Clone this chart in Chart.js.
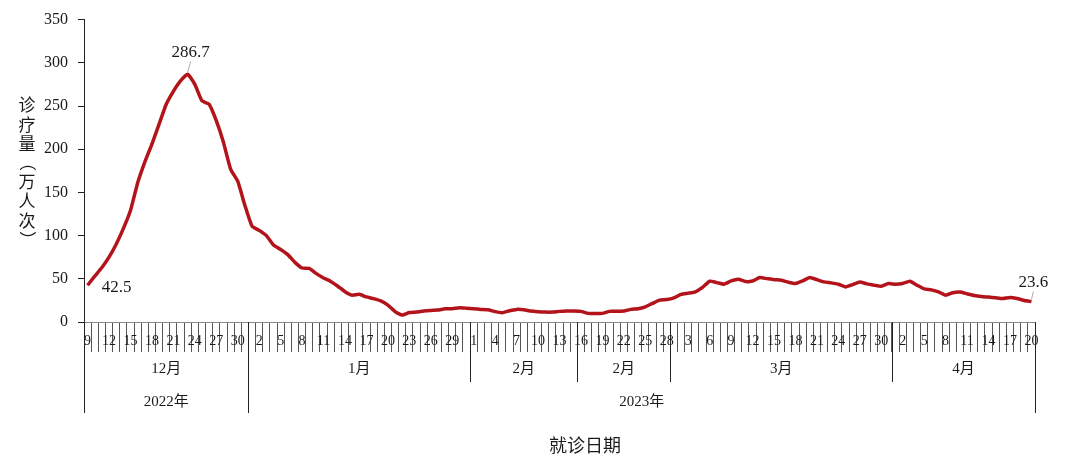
<!DOCTYPE html>
<html>
<head>
<meta charset="utf-8">
<script src="https://cdn.jsdelivr.net/npm/chart.js@4.4.1/dist/chart.umd.min.js"></script>
<style>
  html, body { margin: 0; padding: 0; background: #fff; }
  #wrap { width: 1080px; height: 459px; }
</style>
</head>
<body>
<div id="wrap"><canvas id="chart"></canvas></div>
<script>
// daily visits (10k person-times), 2022-12-09 .. 2023-04-20
const visitsDec = [42.5, 53, 63, 75, 90, 108, 129, 161, 185, 206, 229, 252, 267, 279, 286.7, 275, 256, 252, 233, 208, 177, 163, 135];
const visitsJan = [111, 106, 100, 89, 84, 78, 69, 62.5, 62, 56, 51, 47, 41.4, 35, 31, 32, 29, 27, 24.5, 19.6, 12, 8, 11, 11.5, 12.7, 13.4, 13.8, 15.3, 15.3, 16.5, 16];
const visitsFeb = [15.3, 14.6, 14.2, 12, 10.7, 13, 14.6, 14.2, 12.7, 12, 11.5, 11.5, 12.3, 12.7, 12.7, 12.3, 10, 9.8, 10, 12.3, 12.3, 12.7, 14.6, 15.3, 17.6, 21.5, 25.3, 26];
const visitsMar = [28, 32, 33.4, 35, 40, 47.2, 45.6, 43.7, 47.5, 49.5, 46.8, 47.5, 51.4, 50.2, 49, 48.3, 46, 44.6, 47.5, 51.4, 49, 46.4, 45.3, 43.7, 40.6, 43.3, 46.4, 44.1, 42.6, 41.4, 44.6];
const visitsApr = [43.7, 44.6, 47.2, 42.6, 38.4, 37.2, 34.9, 31, 33.8, 34.6, 32.6, 30.7, 29.5, 28.8, 28, 27.2, 28.4, 27.2, 24.9, 23.6];

// axis groups (month row, year row)
const monthNames = ['12月', '1月', '2月', '2月', '3月', '4月'];
const monthFirstDay = [9, 1, 1, 16, 1, 1];
const monthSpans = [23, 31, 15, 13, 31, 20];
const yearNames = ['2022年', '2023年'];
const yearSpans = [23, 110];
const yTicks = [0, 50, 100, 150, 200, 250, 300, 350];
const labelledDays = [0, 14, 132];

const visits = [].concat(visitsDec, visitsJan, visitsFeb, visitsMar, visitsApr);
const dayLabels = [];
monthSpans.forEach((n, k) => {
  for (let d = 0; d < n; d++) dayLabels.push(String(monthFirstDay[k] + d));
});

const SERIF = '"Liberation Serif", "Times New Roman", "Noto Sans CJK SC", serif';
const CJK = '"Noto Sans CJK SC", sans-serif';
const INK = '#1a1a1a';

const crisp = v => Math.round(v) + 0.5;

const extras = {
  id: 'extras',
  afterDraw(chart) {
    const { ctx, chartArea } = chart;
    const x = chart.scales.x;
    const half = (x.getPixelForValue(1) - x.getPixelForValue(0)) / 2;
    const edge = i => x.getPixelForValue(i) - half;
    const axisY = chartArea.bottom;

    ctx.save();
    ctx.strokeStyle = '#222';
    ctx.lineWidth = 1;
    ctx.fillStyle = INK;
    ctx.textAlign = 'center';
    ctx.textBaseline = 'middle';

    // month row
    ctx.font = '15px ' + SERIF;
    let start = 0;
    monthNames.forEach((name, k) => {
      const x0 = edge(start), x1 = edge(start + monthSpans[k]);
      ctx.beginPath();
      ctx.moveTo(crisp(x0), axisY);
      ctx.lineTo(crisp(x0), axisY + 60);
      ctx.stroke();
      ctx.fillText(name, (x0 + x1) / 2, axisY + 47);
      start += monthSpans[k];
    });

    // year row
    start = 0;
    yearNames.forEach((name, k) => {
      const x0 = edge(start), x1 = edge(start + yearSpans[k]);
      ctx.beginPath();
      ctx.moveTo(crisp(x0), axisY);
      ctx.lineTo(crisp(x0), axisY + 91);
      ctx.stroke();
      ctx.fillText(name, (x0 + x1) / 2, axisY + 80);
      start += yearSpans[k];
    });
    ctx.beginPath();
    ctx.moveTo(crisp(edge(start)), axisY);
    ctx.lineTo(crisp(edge(start)), axisY + 91);
    ctx.stroke();

    // axis titles
    ctx.font = '18px ' + CJK;
    ctx.fillText('就诊日期', 585, 445);

    ctx.font = '17px ' + CJK;
    Array.from('诊疗量（万人次）').forEach((ch, k) => {
      const cy = 105 + k * 19.2;
      if (ch === '（' || ch === '）') {
        ctx.save();
        ctx.translate(27, cy);
        ctx.rotate(Math.PI / 2);
        ctx.fillText(ch, 0, 0);
        ctx.restore();
      } else {
        ctx.fillText(ch, 27, cy);
      }
    });

    // data labels
    const meta = chart.getDatasetMeta(0);
    const place = { 0: [29, 2, false], 14: [3, -22, true], 132: [2, -19, true] };
    ctx.font = '17px ' + SERIF;
    labelledDays.forEach(i => {
      const pt = meta.data[i];
      const [dx, dy, leader] = place[i];
      if (leader) {
        ctx.strokeStyle = '#aaa';
        ctx.beginPath();
        ctx.moveTo(pt.x + dx, pt.y + dy + 9);
        ctx.lineTo(pt.x, pt.y - 2);
        ctx.stroke();
      }
      ctx.fillText(visits[i].toFixed(1), pt.x + dx, pt.y + dy);
    });
    ctx.restore();
  }
};

new Chart(document.getElementById('chart'), {
  type: 'line',
  data: {
    labels: dayLabels,
    datasets: [{
      data: visits,
      borderColor: '#B3141B',
      borderWidth: 3.5,
      pointRadius: 0,
      tension: 0.15,
      fill: false,
    }],
  },
  options: {
    responsive: true,
    maintainAspectRatio: false,
    animation: false,
    layout: { padding: { left: 0, right: 45, top: 18, bottom: 0 } },
    plugins: {
      legend: { display: false },
      tooltip: { enabled: false },
    },
    scales: {
      x: {
        type: 'category',
        offset: true,
        afterFit: s => { s.height = 137; },
        grid: { offset: true, drawOnChartArea: false, tickLength: 30, color: '#555', lineWidth: 1 },
        border: { color: '#888', width: 1 },
        ticks: {
          autoSkip: false,
          maxRotation: 0,
          minRotation: 0,
          padding: -19,
          color: INK,
          font: { family: SERIF, size: 14 },
          callback: (v, i) => (i % 3 === 0 ? dayLabels[i] : ''),
        },
      },
      y: {
        min: yTicks[0],
        max: yTicks[yTicks.length - 1],
        afterFit: s => { s.width = 84; },
        afterBuildTicks: s => { s.ticks = yTicks.map(v => ({ value: v })); },
        grid: { drawOnChartArea: false, tickLength: 6, color: '#222' },
        border: { color: '#222', width: 1 },
        ticks: {
          padding: 10,
          color: INK,
          font: { family: SERIF, size: 16 },
        },
      },
    },
  },
  plugins: [extras],
});
</script>
</body>
</html>
